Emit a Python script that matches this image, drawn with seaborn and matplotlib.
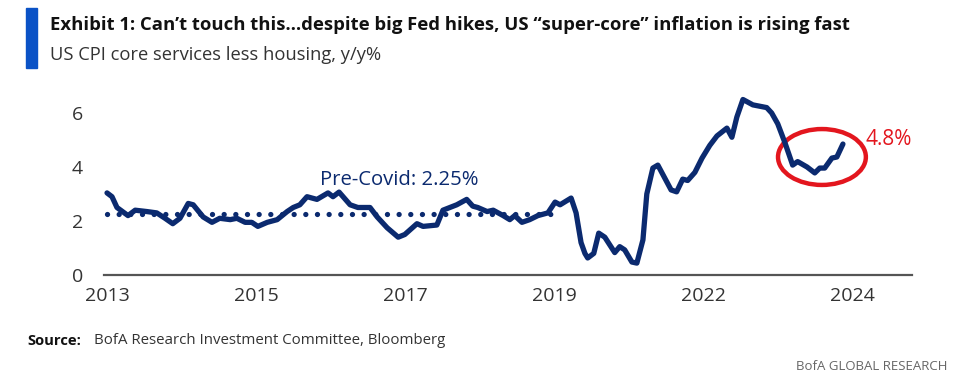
import matplotlib.pyplot as plt
import seaborn as sns
from matplotlib.patches import Ellipse

# months since Jan 2013
months = [0, 0.9, 1.8, 3.8, 5.1, 7.2, 9.0, 10.5, 11.9, 13.2, 14.7, 15.6, 17.4, 19.0,
          20.4, 22.3, 23.5, 25.0, 26.2, 27.3, 29.0, 30.8, 32.6, 33.7, 34.9, 36.2,
          38.0, 40.0, 40.9, 42.0, 44.0, 45.4, 47.6, 48.9, 50.7, 52.7, 53.9, 56.1,
          57.2, 59.7, 60.8, 63.3, 65.1, 66.2, 67.1, 68.8, 69.9, 71.7, 72.9, 73.8,
          75.1, 76.5, 78.0, 79.8, 81.1, 82.0, 84.0, 84.9, 85.8, 86.5, 87.0, 88.1,
          89.0, 90.1, 91.9, 92.8, 93.7, 95.0, 95.9, 97.0, 97.7, 98.8, 99.7, 102.1,
          103.1, 104.2, 105.1, 106.4, 107.7, 109.1, 110.4, 112.2, 113.1, 114.0,
          115.1, 116.9, 119.4, 120.3, 121.4, 122.7, 124.1, 125.0, 126.7, 128.1,
          129.0, 129.9, 131.2, 132.1, 133.2]
supercore = [3.04, 2.9, 2.5, 2.2, 2.4, 2.35, 2.3, 2.1, 1.9, 2.1, 2.65, 2.6, 2.15, 1.95,
             2.1, 2.05, 2.1, 1.95, 1.95, 1.8, 1.95, 2.05, 2.35, 2.5, 2.6, 2.9,
             2.8, 3.04, 2.9, 3.07, 2.6, 2.5, 2.5, 2.15, 1.75, 1.4, 1.5, 1.9,
             1.8, 1.85, 2.4, 2.6, 2.8, 2.55, 2.5, 2.35, 2.4, 2.2, 2.05, 2.2,
             1.95, 2.05, 2.2, 2.3, 2.7, 2.6, 2.85, 2.3, 1.2, 0.8, 0.63, 0.8,
             1.55, 1.4, 0.83, 1.05, 0.93, 0.48, 0.44, 1.3, 3.0, 3.96, 4.07, 3.15,
             3.08, 3.55, 3.5, 3.8, 4.33, 4.8, 5.15, 5.44, 5.1, 5.85,
             6.5, 6.3, 6.2, 6.0, 5.6, 4.9, 4.07, 4.2, 4.0, 3.78,
             3.96, 3.96, 4.33, 4.37, 4.85]

precovid_months = [0, 80.5]
precovid_level = [2.25, 2.25]

tick_months = [0, 27, 54, 81, 108, 135]
tick_labels = ["2013", "2015", "2017", "2019", "2022", "2024"]
y_ticks = [0, 2, 4, 6]

navy = "#0b2a6f"
red = "#e3161e"
grey = "#333333"

sns.set_theme(style="white")
plt.rcParams["font.family"] = ["Open Sans", "DejaVu Sans"]

fig = plt.figure(figsize=(9.7, 3.83), dpi=100)
ax = fig.add_axes([0.1072, 0.282, 0.833, 0.4935])

sns.lineplot(x=months, y=supercore, ax=ax, color=navy, lw=3.8, solid_joinstyle="round")
sns.lineplot(x=precovid_months, y=precovid_level, ax=ax, color=navy, lw=3.8,
             linestyle=(0, (0.01, 2.2)), zorder=3)
ax.lines[-1].set_dash_capstyle("round")

ax.add_patch(Ellipse((129.4, 4.37), 15.9, 2.07, fill=False, ec=red, lw=3.2))
ax.text(137.3, 5.0, "4.8%", color=red, fontsize=15, va="center", ha="left")
ax.text(38.6, 3.52, "Pre-Covid: 2.25%", color=navy, fontsize=14.6, va="center", ha="left")

ax.set_xlim(-0.55, 145.7)
ax.set_ylim(0, 7)
ax.set_xticks(tick_months)
ax.set_xticklabels(tick_labels)
ax.set_yticks(y_ticks)
ax.tick_params(axis="x", length=0, pad=9, labelsize=14, labelcolor=grey)
ax.tick_params(axis="y", length=0, pad=15, labelsize=14, labelcolor=grey)
ax.grid(False)
for s in ["top", "right", "left"]:
    ax.spines[s].set_visible(False)
ax.spines["bottom"].set_color("#555555")
ax.spines["bottom"].set_linewidth(1.6)

# header
fig.patches.append(plt.Rectangle((26 / 970, 1 - 68 / 383), 11 / 970, 60 / 383,
                                 transform=fig.transFigure, color="#0a52c6"))
fig.text(50 / 970, 1 - 25 / 383, "Exhibit 1: Can\u2019t touch this\u2026despite big Fed hikes, "
         "US \u201csuper-core\u201d inflation is rising fast",
         fontsize=13.3, fontweight="bold", color="#111111", va="center")
fig.text(50 / 970, 1 - 55 / 383, "US CPI core services less housing, y/y%",
         fontsize=13.2, color=grey, va="center")

# footer
fig.text(27 / 970, 1 - 341 / 383, "Source:", fontsize=10.6, fontweight="bold",
         color="#111111", va="center")
fig.text(94 / 970, 1 - 341 / 383, "BofA Research Investment Committee, Bloomberg",
         fontsize=10.8, color=grey, va="center")
fig.text(947 / 970, 1 - 366 / 383, "BofA GLOBAL RESEARCH", fontsize=9.5,
         color="#666666", va="center", ha="right")

fig.savefig("out.png", dpi=100)
